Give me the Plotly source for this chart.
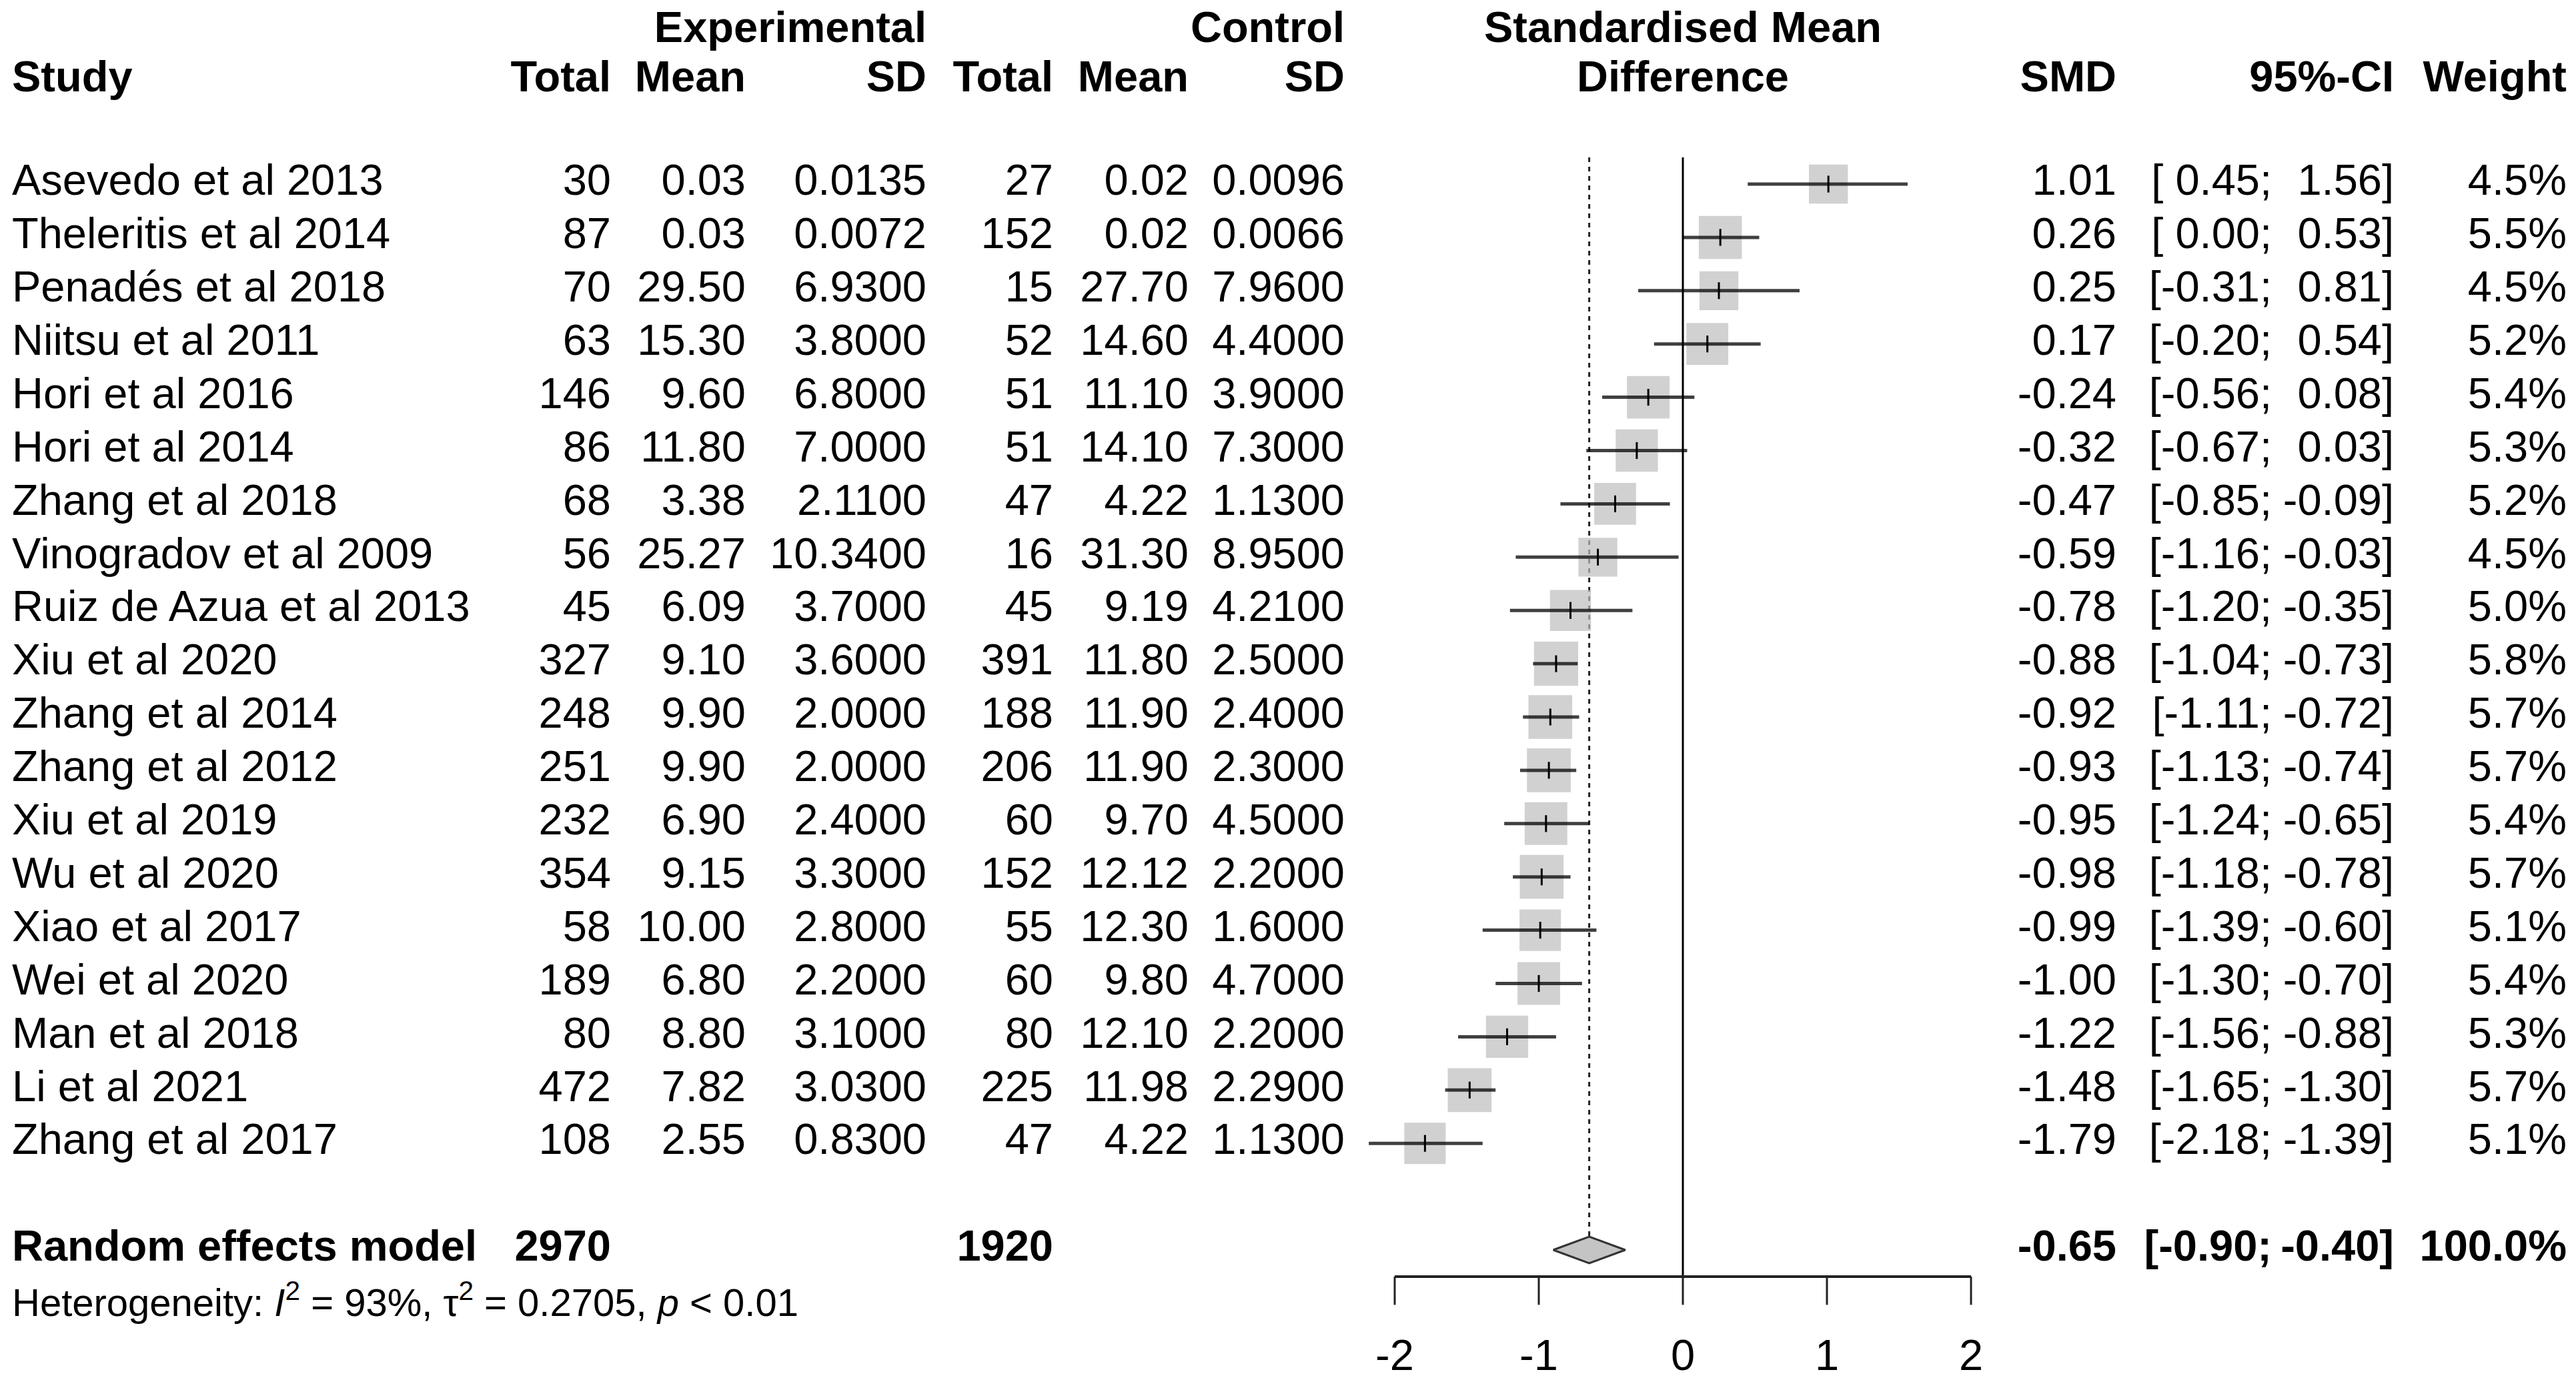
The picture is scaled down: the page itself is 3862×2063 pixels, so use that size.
import plotly.graph_objects as go

# данные исследований
studies = ["Asevedo et al 2013", "Theleritis et al 2014", "Penadés et al 2018", "Niitsu et al 2011",
           "Hori et al 2016", "Hori et al 2014", "Zhang et al 2018", "Vinogradov et al 2009",
           "Ruiz de Azua et al 2013", "Xiu et al 2020", "Zhang et al 2014", "Zhang et al 2012",
           "Xiu et al 2019", "Wu et al 2020", "Xiao et al 2017", "Wei et al 2020",
           "Man et al 2018", "Li et al 2021", "Zhang et al 2017"]
exp_total = [30, 87, 70, 63, 146, 86, 68, 56, 45, 327, 248, 251, 232, 354, 58, 189, 80, 472, 108]
exp_mean = [0.03, 0.03, 29.50, 15.30, 9.60, 11.80, 3.38, 25.27, 6.09, 9.10, 9.90, 9.90, 6.90, 9.15,
            10.00, 6.80, 8.80, 7.82, 2.55]
exp_sd = [0.0135, 0.0072, 6.93, 3.80, 6.80, 7.00, 2.11, 10.34, 3.70, 3.60, 2.00, 2.00, 2.40, 3.30,
          2.80, 2.20, 3.10, 3.03, 0.83]
ctrl_total = [27, 152, 15, 52, 51, 51, 47, 16, 45, 391, 188, 206, 60, 152, 55, 60, 80, 225, 47]
ctrl_mean = [0.02, 0.02, 27.70, 14.60, 11.10, 14.10, 4.22, 31.30, 9.19, 11.80, 11.90, 11.90, 9.70,
             12.12, 12.30, 9.80, 12.10, 11.98, 4.22]
ctrl_sd = [0.0096, 0.0066, 7.96, 4.40, 3.90, 7.30, 1.13, 8.95, 4.21, 2.50, 2.40, 2.30, 4.50, 2.20,
           1.60, 4.70, 2.20, 2.29, 1.13]
smd = [1.01, 0.26, 0.25, 0.17, -0.24, -0.32, -0.47, -0.59, -0.78, -0.88, -0.92, -0.93, -0.95, -0.98,
       -0.99, -1.00, -1.22, -1.48, -1.79]
ci_low = [0.45, 0.00, -0.31, -0.20, -0.56, -0.67, -0.85, -1.16, -1.20, -1.04, -1.11, -1.13, -1.24,
          -1.18, -1.39, -1.30, -1.56, -1.65, -2.18]
ci_high = [1.56, 0.53, 0.81, 0.54, 0.08, 0.03, -0.09, -0.03, -0.35, -0.73, -0.72, -0.74, -0.65,
           -0.78, -0.60, -0.70, -0.88, -1.30, -1.39]
weight = [4.5, 5.5, 4.5, 5.2, 5.4, 5.3, 5.2, 4.5, 5.0, 5.8, 5.7, 5.7, 5.4, 5.7, 5.1, 5.4, 5.3, 5.7, 5.1]

# модель случайных эффектов
re_label = "Random effects model"
re_exp_total = 2970
re_ctrl_total = 1920
re_smd = -0.65
re_low = -0.90
re_high = -0.40
re_weight = 100.0
het_text = "Heterogeneity: <i>I</i><sup>2</sup> = 93%, τ<sup>2</sup> = 0.2705, <i>p</i> &lt; 0.01"

tick_vals = [-2, -1, 0, 1, 2]

W, H = 3862, 2063
FONT = "Liberation Sans, Arial, sans-serif"
FS = 65
rows = list(range(len(studies)))
y_head1, y_head2 = -2.87, -1.94
y_re, y_het = 20.0, 21.06
y_axis, y_tick_end, y_ticklab = 20.5, 21.03, 22.05

fig = go.Figure()


def txt(x, y, text, pos, size=FS, bold=False):
    t = [f"<b>{s}</b>" for s in text] if bold else text
    fig.add_trace(go.Scatter(x=x, y=y, text=t, mode="text", textposition=pos, xaxis="x2",
                             textfont=dict(family=FONT, size=size, color="black"),
                             cliponaxis=False, hoverinfo="skip", showlegend=False))


# колонки таблицы (x в пикселях полотна)
X_STUDY = 10
X_ET, X_EM, X_ESD = 908, 1110, 1381
X_CT, X_CM, X_CSD = 1571, 1774, 2008
X_SMD, X_CI1, X_CI2, X_W = 3165, 3398, 3581, 3840
X_MID = 2515

# заголовки
txt([X_ESD, X_CSD], [y_head1] * 2, ["Experimental", "Control"], "middle left", bold=True)
txt([X_MID], [y_head1], ["Standardised Mean"], "middle center", bold=True)
txt([X_STUDY], [y_head2], ["Study"], "middle right", bold=True)
txt([X_ET, X_EM, X_ESD, X_CT, X_CM, X_CSD, X_SMD, X_CI2, X_W], [y_head2] * 9,
    ["Total", "Mean", "SD", "Total", "Mean", "SD", "SMD", "95%-CI", "Weight"], "middle left", bold=True)
txt([X_MID], [y_head2], ["Difference"], "middle center", bold=True)

# строки исследований
n = len(studies)
txt([X_STUDY] * n, rows, studies, "middle right")
txt([X_ET] * n, rows, [str(v) for v in exp_total], "middle left")
txt([X_EM] * n, rows, [f"{v:.2f}" for v in exp_mean], "middle left")
txt([X_ESD] * n, rows, [f"{v:.4f}" for v in exp_sd], "middle left")
txt([X_CT] * n, rows, [str(v) for v in ctrl_total], "middle left")
txt([X_CM] * n, rows, [f"{v:.2f}" for v in ctrl_mean], "middle left")
txt([X_CSD] * n, rows, [f"{v:.4f}" for v in ctrl_sd], "middle left")
txt([X_SMD] * n, rows, [f"{v:.2f}" for v in smd], "middle left")
txt([X_CI1] * n, rows, ["[" + (" " if v >= 0 else "") + f"{v:.2f};" for v in ci_low], "middle left")
txt([X_CI2] * n, rows, [f"{v:.2f}]" for v in ci_high], "middle left")
txt([X_W] * n, rows, [f"{v:.1f}%" for v in weight], "middle left")

# итоговая строка
txt([X_STUDY], [y_re], [re_label], "middle right", bold=True)
txt([X_ET, X_CT, X_SMD, X_CI1, X_CI2, X_W], [y_re] * 6,
    [str(re_exp_total), str(re_ctrl_total), f"{re_smd:.2f}", f"[{re_low:.2f};",
     f"{re_high:.2f}]", f"{re_weight:.1f}%"], "middle left", bold=True)
txt([X_STUDY], [y_het], [het_text], "middle right", size=58)

# линия нуля и пунктир итоговой оценки
fig.add_trace(go.Scatter(x=[0, 0], y=[-0.5, y_axis], mode="lines",
                         line=dict(color="black", width=3), hoverinfo="skip", showlegend=False))
fig.add_trace(go.Scatter(x=[re_smd, re_smd], y=[-0.5, y_re - 0.26], mode="lines",
                         line=dict(color="#222222", width=3, dash="7px,7px"),
                         hoverinfo="skip", showlegend=False))

# квадраты (площадь ~ вес)
fig.add_trace(go.Scatter(x=smd, y=rows, mode="markers",
                         marker=dict(symbol="square", color="#bdbdbd",
                                     size=[27.5 * w ** 0.5 for w in weight], line=dict(width=0)),
                         hoverinfo="skip", showlegend=False))

# доверительные интервалы
ci_x, ci_y = [], []
for lo, hi, r in zip(ci_low, ci_high, rows):
    ci_x += [lo, hi, None]
    ci_y += [r, r, None]
fig.add_trace(go.Scatter(x=ci_x, y=ci_y, mode="lines",
                         line=dict(color="rgba(0,0,0,0.75)", width=5),
                         hoverinfo="skip", showlegend=False))
fig.add_trace(go.Scatter(x=smd, y=rows, mode="markers",
                         marker=dict(symbol="line-ns", size=18, line=dict(color="black", width=3)),
                         hoverinfo="skip", showlegend=False))

# ромб
fig.add_trace(go.Scatter(x=[re_low, re_smd, re_high, re_smd, re_low],
                         y=[y_re, y_re - 0.25, y_re, y_re + 0.25, y_re],
                         mode="lines", fill="toself", fillcolor="#c4c4c4",
                         line=dict(color="#333333", width=3), hoverinfo="skip", showlegend=False))

# ось
fig.add_trace(go.Scatter(x=[tick_vals[0], tick_vals[-1]], y=[y_axis, y_axis], mode="lines",
                         line=dict(color="#222222", width=4), hoverinfo="skip", showlegend=False))
tx, ty = [], []
for t in tick_vals:
    tx += [t, t, None]
    ty += [y_axis, y_tick_end, None]
fig.add_trace(go.Scatter(x=tx, y=ty, mode="lines", line=dict(color="#222222", width=3),
                         hoverinfo="skip", showlegend=False))
fig.add_trace(go.Scatter(x=tick_vals, y=[y_ticklab] * len(tick_vals), mode="text",
                         text=[str(t) for t in tick_vals], textposition="middle center",
                         textfont=dict(family=FONT, size=FS, color="black"),
                         cliponaxis=False, hoverinfo="skip", showlegend=False))

# -2 -> 2083 px, 2 -> 2947 px
unit = (2947 - 2083) / 4
x0 = 2083 + 2 * unit
fig.update_layout(
    width=W, height=H,
    margin=dict(l=0, r=0, t=0, b=0),
    paper_bgcolor="white", plot_bgcolor="white",
    xaxis=dict(domain=[0, 1], range=[-x0 / unit, (W - x0) / unit], visible=False, fixedrange=True),
    xaxis2=dict(domain=[0, 1], range=[0, W], overlaying="x", anchor="y", visible=False),
    yaxis=dict(domain=[0, 1], range=[(H - 268) / 79.9, -268 / 79.9], visible=False),
)

fig.write_html("out.html")
